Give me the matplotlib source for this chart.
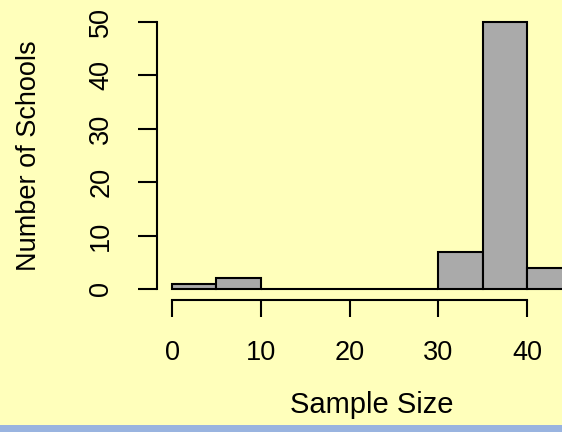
import matplotlib.pyplot as plt
from matplotlib.patches import Rectangle

# histogram of school sample sizes (bins of width 5)
bin_edges = [0, 5, 10, 15, 20, 25, 30, 35, 40, 45]
counts = [1, 2, 0, 0, 0, 0, 7, 50, 4]
x_ticks = [0, 10, 20, 30, 40]
y_ticks = [0, 10, 20, 30, 40, 50]

plt.rcParams['font.family'] = ['Liberation Sans', 'DejaVu Sans']

W, H = 562, 432
fig = plt.figure(figsize=(W / 100, H / 100), dpi=100, facecolor='#ffffbb')

# axes placed in pixel terms: left spine at x=157, bottom spine at y=300
ax = fig.add_axes([157 / W, (H - 300) / H, (W - 157) / W, 300 / H])
ax.set_facecolor('none')

px_per_x = (527 - 172) / 40.0
px_per_y = (289 - 22) / 50.0
ax.set_xlim((157 - 172) / px_per_x, (W - 172) / px_per_x)
ax.set_ylim((289 - 300) / px_per_y, 289 / px_per_y)

widths = [b - a for a, b in zip(bin_edges[:-1], bin_edges[1:])]
ax.bar(bin_edges[:-1], counts, width=widths, align='edge',
       color='#aaaaaa', edgecolor='black', linewidth=1.5)

for side in ['top', 'right']:
    ax.spines[side].set_visible(False)
ax.spines['left'].set_bounds(y_ticks[0], y_ticks[-1])
ax.spines['bottom'].set_bounds(x_ticks[0], x_ticks[-1])
ax.spines['left'].set_linewidth(1.5)
ax.spines['bottom'].set_linewidth(1.5)

ax.set_xticks(x_ticks)
ax.set_yticks(y_ticks)
ax.tick_params(axis='x', length=12, width=1.5, pad=17, labelsize=19.5)
ax.tick_params(axis='y', length=13.7, width=1.5, pad=17, labelsize=19.5,
               labelrotation=90)
for lab in ax.get_yticklabels():
    lab.set_va('center')

# light blue strip along the bottom edge
fig.patches.append(Rectangle((0, 0), 1, 7 / H, transform=fig.transFigure,
                             facecolor='#99b4e0', edgecolor='none', zorder=0))

fig.text(372 / W, (H - 413) / H, 'Sample Size', ha='center', va='baseline',
         fontsize=21, zorder=5)
fig.text(29 / W, (H - 156) / H, 'Number of Schools', ha='center', va='center',
         rotation=90, fontsize=19.5)

fig.savefig('out.png', dpi=100, facecolor=fig.get_facecolor())
